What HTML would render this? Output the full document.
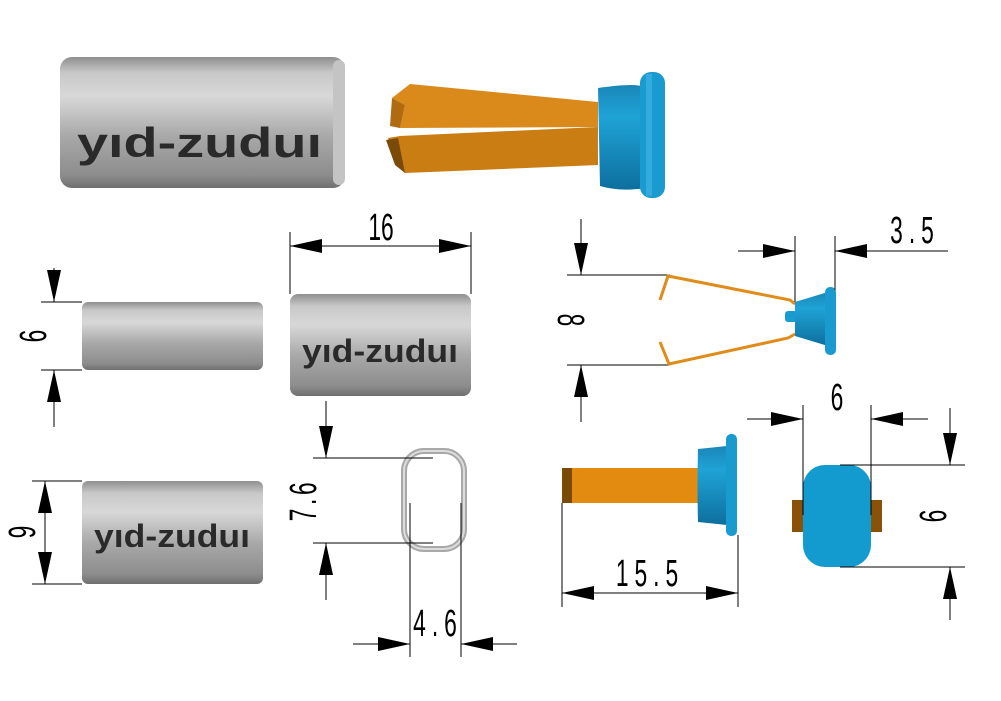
<!DOCTYPE html>
<html><head><meta charset="utf-8"><style>
html,body{margin:0;padding:0;background:#fff;}
svg{display:block;}
.d{stroke:#000;stroke-width:1;fill:none;}
.t{font-family:"Liberation Sans",sans-serif;font-size:38px;fill:#000;}
.logo{font-family:"Liberation Sans",sans-serif;font-weight:bold;fill:#2a2a2a;}
</style></head><body>
<svg width="1001" height="701" viewBox="0 0 1001 701" xmlns="http://www.w3.org/2000/svg">
<defs>
<linearGradient id="g" x1="0" y1="0" x2="0" y2="1">
<stop offset="0" stop-color="#8f8f8f"/><stop offset="0.12" stop-color="#c8c8c8"/><stop offset="0.3" stop-color="#d8d8d8"/><stop offset="0.6" stop-color="#a9a9a9"/><stop offset="0.9" stop-color="#8d8d8d"/><stop offset="1" stop-color="#6f6f6f"/>
</linearGradient>
<linearGradient id="b" x1="0" y1="0" x2="0" y2="1">
<stop offset="0" stop-color="#1a86b8"/><stop offset="0.3" stop-color="#1fa3d6"/><stop offset="1" stop-color="#0d6f9e"/>
</linearGradient>
<marker id="a" markerWidth="32" markerHeight="14" refX="32" refY="7" orient="auto" markerUnits="userSpaceOnUse"><path d="M0,0 L32,7 L0,14 Z" fill="#000"/></marker>
</defs>

<!-- top cylinder -->
<rect x="60" y="57" width="285" height="131" rx="12" fill="url(#g)"/>
<rect x="333" y="60" width="12" height="125" rx="6" fill="#c4c4c4"/>
<text class="logo" x="77" y="157" font-size="42" textLength="245" lengthAdjust="spacingAndGlyphs">yıd-zuduı</text>

<!-- top clip -->
<polygon points="392,98 410,84 598,102 598,127 400,128 405,105" fill="#d98a1a"/>
<polygon points="392,98 405,105 400,128 390,126" fill="#b06a10"/>
<polygon points="388,138 400,136 598,127 598,165 405,173" fill="#c97d12"/>
<polygon points="386,140 398,138 405,173 395,165" fill="#7a4a08"/>
<path d="M598,88 Q640,82 645,88 L645,188 Q620,192 600,186 Z" fill="url(#b)"/>
<rect x="640" y="72" width="25" height="126" rx="11" fill="#1a9bd0"/>
<rect x="646" y="74" width="6" height="122" fill="#45b8e6" opacity="0.6"/>

<!-- left middle cylinder -->
<rect x="82" y="302" width="181" height="68" rx="6" fill="url(#g)"/>
<line class="d" x1="41" y1="302" x2="82" y2="302"/><line class="d" x1="41" y1="370" x2="82" y2="370"/>
<line class="d" x1="54" y1="268" x2="54" y2="302" marker-end="url(#a)"/>
<line class="d" x1="54" y1="427" x2="54" y2="370" marker-end="url(#a)"/>
<text class="t" transform="translate(46,336) rotate(-90) scale(0.6,1)" text-anchor="middle">6</text>

<!-- middle cylinder with logo -->
<rect x="290" y="294" width="181" height="102" rx="8" fill="url(#g)"/>
<text class="logo" x="302" y="362" font-size="32" textLength="156" lengthAdjust="spacingAndGlyphs">yıd-zuduı</text>
<line class="d" x1="290" y1="232" x2="290" y2="294"/><line class="d" x1="471" y1="232" x2="471" y2="294"/>
<line class="d" x1="380" y1="246" x2="290" y2="246" marker-end="url(#a)"/>
<line class="d" x1="380" y1="246" x2="471" y2="246" marker-end="url(#a)"/>
<text class="t" transform="translate(381,240) scale(0.6,1)" text-anchor="middle">16</text>

<!-- lower left cylinder -->
<rect x="82" y="481" width="181" height="103" rx="6" fill="url(#g)"/>
<text class="logo" x="94" y="547" font-size="32" textLength="156" lengthAdjust="spacingAndGlyphs">yıd-zuduı</text>
<line class="d" x1="32" y1="481" x2="82" y2="481"/><line class="d" x1="32" y1="584" x2="82" y2="584"/>
<line class="d" x1="45" y1="532" x2="45" y2="481" marker-end="url(#a)"/>
<line class="d" x1="45" y1="532" x2="45" y2="584" marker-end="url(#a)"/>
<text class="t" transform="translate(35,532) rotate(-90) scale(0.6,1)" text-anchor="middle">9</text>

<!-- ring -->
<rect x="404" y="451" width="60" height="98" rx="20" fill="none" stroke="#a8a8a8" stroke-width="6"/>
<rect x="404" y="451" width="60" height="98" rx="20" fill="none" stroke="#dcdcdc" stroke-width="2"/>
<line class="d" x1="313" y1="458" x2="433" y2="458"/><line class="d" x1="313" y1="543" x2="433" y2="543"/>
<line class="d" x1="326" y1="401" x2="326" y2="458" marker-end="url(#a)"/>
<line class="d" x1="326" y1="600" x2="326" y2="543" marker-end="url(#a)"/>
<text class="t" transform="translate(316,500) rotate(-90) scale(0.6,1)" text-anchor="middle" letter-spacing="6">7.6</text>
<line class="d" x1="410" y1="503" x2="410" y2="657"/><line class="d" x1="461" y1="503" x2="461" y2="657"/>
<line class="d" x1="353" y1="644" x2="410" y2="644" marker-end="url(#a)"/>
<line class="d" x1="517" y1="644" x2="461" y2="644" marker-end="url(#a)"/>
<text class="t" transform="translate(438,636) scale(0.6,1)" text-anchor="middle" letter-spacing="10">4.6</text>

<!-- right top clip -->
<line class="d" x1="567" y1="275" x2="670" y2="275"/><line class="d" x1="567" y1="365" x2="670" y2="365"/>
<line class="d" x1="581" y1="219" x2="581" y2="275" marker-end="url(#a)"/>
<line class="d" x1="581" y1="422" x2="581" y2="365" marker-end="url(#a)"/>
<text class="t" transform="translate(558,320) rotate(90) scale(0.6,1)" text-anchor="middle">8</text>
<polyline points="660,300 668,276 790,300 795,304" fill="none" stroke="#e08c1a" stroke-width="3"/>
<polyline points="660,342 669,364 788,338 795,334" fill="none" stroke="#e08c1a" stroke-width="3"/>
<rect x="785" y="311" width="12" height="11" rx="3" fill="#1a9bd0"/>
<path d="M795,302 L828,292 L828,346 L795,336 Z" fill="url(#b)"/>
<rect x="825" y="287" width="11" height="68" rx="5" fill="#1a9bd0"/>
<line class="d" x1="795" y1="236" x2="795" y2="302"/><line class="d" x1="835" y1="236" x2="835" y2="290"/>
<line class="d" x1="738" y1="251" x2="795" y2="251" marker-end="url(#a)"/>
<line class="d" x1="948" y1="251" x2="835" y2="251" marker-end="url(#a)"/>
<text class="t" transform="translate(915,243) scale(0.6,1)" text-anchor="middle" letter-spacing="10">3.5</text>

<!-- bottom right bar -->
<rect x="562" y="468" width="138" height="35" fill="#e38b10"/>
<rect x="562" y="468" width="10" height="35" fill="#7a4a08"/>
<path d="M698,449 L727,446 L727,525 L698,522 Q697,485 698,449 Z" fill="url(#b)"/>
<rect x="726" y="434" width="11" height="102" rx="5" fill="#1a9bd0"/>
<line class="d" x1="562" y1="503" x2="562" y2="607"/><line class="d" x1="738" y1="535" x2="738" y2="607"/>
<line class="d" x1="650" y1="593" x2="562" y2="593" marker-end="url(#a)"/>
<line class="d" x1="650" y1="593" x2="738" y2="593" marker-end="url(#a)"/>
<text class="t" transform="translate(650,586) scale(0.6,1)" text-anchor="middle" letter-spacing="10">15.5</text>

<!-- front view -->
<rect x="792" y="500" width="90" height="32" fill="#8a5208"/>
<rect x="803" y="465" width="68" height="102" rx="22" fill="#139bd0"/>
<line class="d" x1="803" y1="405" x2="803" y2="515"/><line class="d" x1="871" y1="405" x2="871" y2="515"/>
<line class="d" x1="747" y1="419" x2="803" y2="419" marker-end="url(#a)"/>
<line class="d" x1="928" y1="419" x2="871" y2="419" marker-end="url(#a)"/>
<text class="t" transform="translate(837,410) scale(0.6,1)" text-anchor="middle">6</text>
<line class="d" x1="840" y1="465" x2="965" y2="465"/><line class="d" x1="840" y1="567" x2="965" y2="567"/>
<line class="d" x1="950" y1="408" x2="950" y2="465" marker-end="url(#a)"/>
<line class="d" x1="950" y1="620" x2="950" y2="567" marker-end="url(#a)"/>
<text class="t" transform="translate(920,516) rotate(90) scale(0.6,1)" text-anchor="middle">9</text>
</svg>
</body></html>
